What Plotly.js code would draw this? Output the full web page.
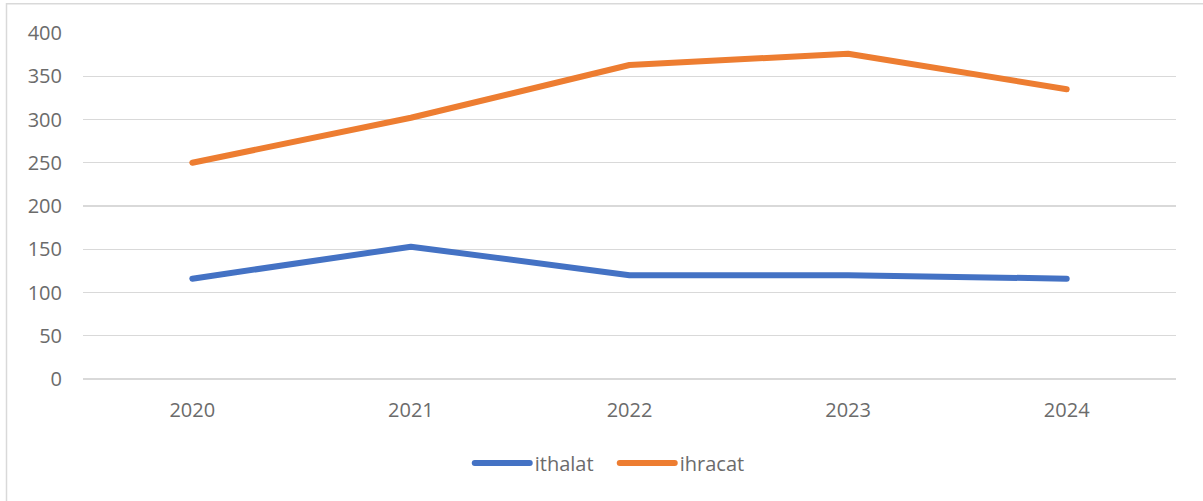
<!DOCTYPE html>
<html>
<head>
<meta charset="utf-8">
<script src="https://cdn.plot.ly/plotly-3.0.1.min.js"></script>
<style>
html, body { margin: 0; padding: 0; background: #fff; }
#chart { width: 1203px; height: 501px; }
.scatterlayer .js-line, .legendlines path { stroke-linecap: round; stroke-linejoin: round; }
</style>
</head>
<body>
<div id="chart"></div>
<script>
const years = ["2020", "2021", "2022", "2023", "2024"];
const ithalat = [116, 153, 120, 120, 116];
const ihracat = [250, 302, 363, 376, 335];
const yTicks = [0, 50, 100, 150, 200, 250, 300, 350, 400];

const font = "'Open Sans', 'Noto Sans', sans-serif";

const traces = [
  { x: years, y: ithalat, name: "ithalat", type: "scatter", mode: "lines",
    line: { color: "#4472C4", width: 6 }, hoverinfo: "x+y+name" },
  { x: years, y: ihracat, name: "ihracat", type: "scatter", mode: "lines",
    line: { color: "#ED7D31", width: 6 }, hoverinfo: "x+y+name" }
];

const layout = {
  width: 1203, height: 501,
  margin: { l: 83, r: 27, t: 33, b: 122 },
  paper_bgcolor: "#fff", plot_bgcolor: "#fff",
  font: { family: font, size: 20, color: "#6b6b6b" },
  showlegend: true,
  xaxis: {
    type: "category", range: [-0.5, 4.5], showgrid: false, zeroline: false, showline: false,
    ticks: "", ticklabelstandoff: 17,
    tickfont: { family: font, size: 20, color: "#6b6b6b" }
  },
  yaxis: {
    range: [0, 400], tickvals: yTicks, ticktext: yTicks.map(String),
    showgrid: true, gridcolor: "#d9d9d9", gridwidth: 1.3,
    zeroline: true, zerolinecolor: "#d9d9d9", zerolinewidth: 1.3,
    showline: false, ticks: "", ticklabelstandoff: 20,
    tickfont: { family: font, size: 20, color: "#6b6b6b" }
  },
  legend: {
    orientation: "h", x: 0.4865, xanchor: "center", y: -0.243, yanchor: "middle",
    itemwidth: 55, entrywidth: 75, entrywidthmode: "pixels",
    font: { family: font, size: 20, color: "#6b6b6b" },
    bgcolor: "rgba(0,0,0,0)"
  },
  shapes: [{
    type: "rect", xref: "paper", yref: "paper",
    x0: (6.5 - 83) / 1093, x1: (1215 - 83) / 1093,
    y0: (379 - 515) / 346, y1: (379 - 3.8) / 346,
    line: { color: "#d9d9d9", width: 1.5 }, fillcolor: "rgba(0,0,0,0)", layer: "below"
  }]
};

Plotly.newPlot("chart", traces, layout, { displayModeBar: false, staticPlot: true });
</script>
</body>
</html>
